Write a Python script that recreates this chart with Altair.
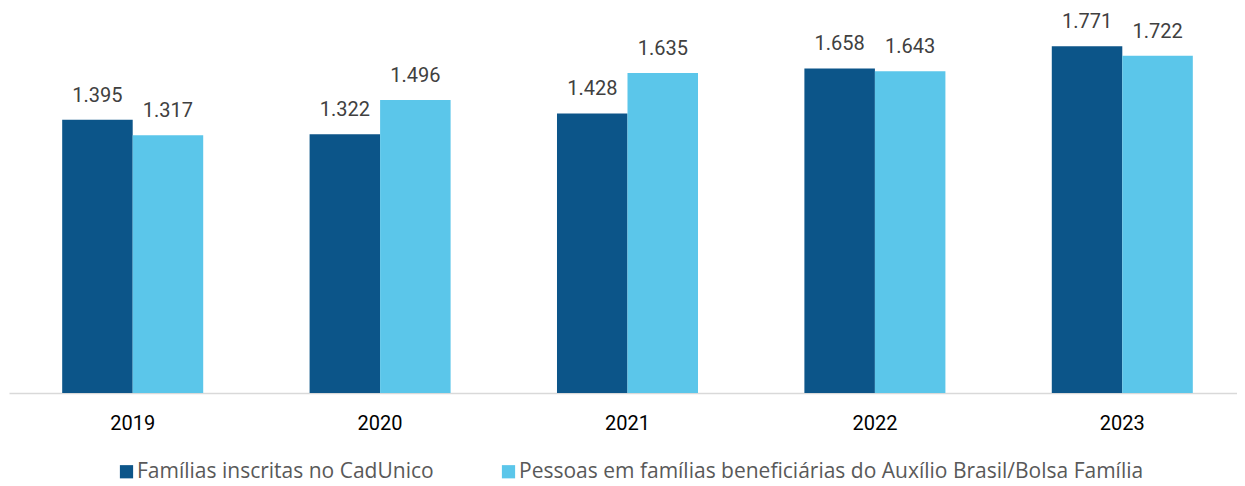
import altair as alt
import pandas as pd

anos = ["2019", "2020", "2021", "2022", "2023"]
familias = [1.395, 1.322, 1.428, 1.658, 1.771]
pessoas = [1.317, 1.496, 1.635, 1.643, 1.722]
series = ["Famílias inscritas no CadUnico",
          "Pessoas em famílias beneficiárias do Auxílio Brasil/Bolsa Família"]
cores = ["#0C5589", "#5BC6EA"]

rows = []
for i, a in enumerate(anos):
    rows.append({"ano": a, "serie": series[0], "valor": familias[i]})
    rows.append({"ano": a, "serie": series[1], "valor": pessoas[i]})
df = pd.DataFrame(rows)

base = alt.Chart(df).encode(
    x=alt.X("ano:N", sort=anos, title=None,
            scale=alt.Scale(paddingInner=0.43, paddingOuter=0.215, range=[0, 1237]),
            axis=alt.Axis(labelAngle=0, ticks=False, domainColor="#D9D9D9",
                          domainWidth=1.5, labelFont="Roboto", labelFontSize=20,
                          labelFontWeight="normal",
                          labelColor="#000000", labelPadding=20)),
    xOffset=alt.XOffset("serie:N", sort=series),
    y=alt.Y("valor:Q", scale=alt.Scale(domain=[0, 1.9]), axis=None),
)

bars = base.mark_bar().encode(
    color=alt.Color("serie:N", sort=series,
                    scale=alt.Scale(domain=series, range=cores),
                    legend=alt.Legend(title=None, orient="none", direction="horizontal",
                                      columns=2, legendX=107, legendY=440,
                                      symbolType="square", symbolSize=175,
                                      symbolStrokeWidth=0, labelFont="Open Sans",
                                      labelFontSize=21, labelColor="#595959",
                                      labelOffset=0, columnPadding=64,
                                      labelLimit=900))
)

text = base.mark_text(dy=-14, baseline="bottom", font="Roboto", fontSize=20,
                      color="#404040").encode(
    text=alt.Text("valor:Q", format=".3f")
)

chart = (bars + text).properties(
    width=1228, height=372,
    padding={"left": 1, "top": 13, "right": 0, "bottom": 93},
    autosize=alt.AutoSizeParams(type="none"),
).configure_view(stroke=None)

chart.save("out.html", embed_options={"renderer": "svg", "actions": False})
